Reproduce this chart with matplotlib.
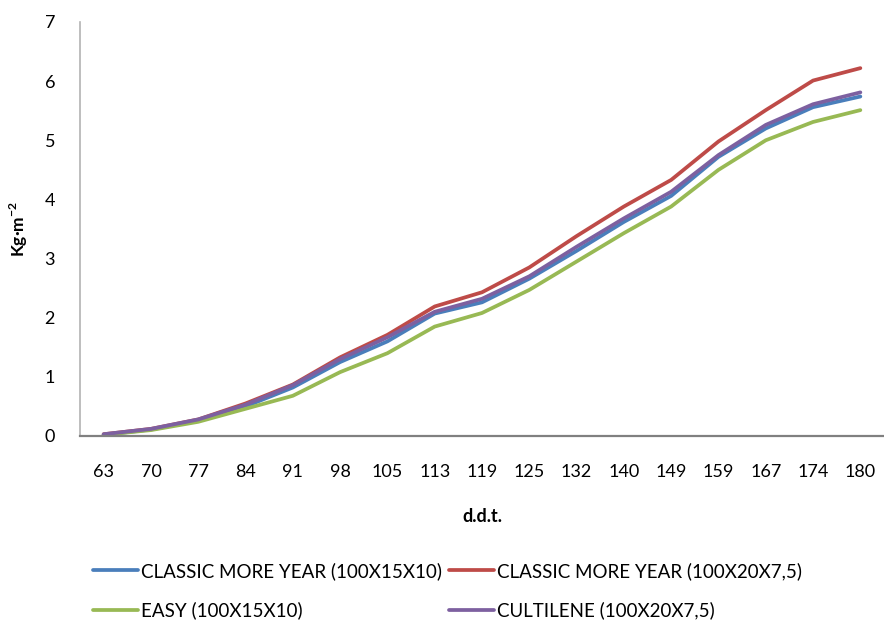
import matplotlib
matplotlib.use("Agg")
import matplotlib.pyplot as plt
from matplotlib import font_manager

# Sampling days (d.d.t.) and cumulative yield per treatment (Kg·m-2)
days = ["63", "70", "77", "84", "91", "98", "105", "113", "119",
        "125", "132", "140", "149", "159", "167", "174", "180"]
classic_15x10 = [0.02, 0.11, 0.26, 0.50, 0.82, 1.25, 1.60, 2.07, 2.26,
                 2.66, 3.13, 3.62, 4.06, 4.72, 5.20, 5.56, 5.74]
classic_20x75 = [0.03, 0.12, 0.28, 0.55, 0.87, 1.33, 1.71, 2.19, 2.43,
                 2.85, 3.38, 3.88, 4.33, 4.98, 5.51, 6.01, 6.22]
easy_15x10 = [0.02, 0.10, 0.24, 0.46, 0.68, 1.08, 1.40, 1.85, 2.08,
              2.47, 2.95, 3.43, 3.88, 4.50, 5.00, 5.31, 5.51]
cultilene_20x75 = [0.03, 0.12, 0.28, 0.53, 0.86, 1.30, 1.67, 2.10, 2.32,
                   2.70, 3.20, 3.68, 4.13, 4.75, 5.26, 5.61, 5.81]
series_names = ["CLASSIC MORE YEAR (100X15X10)",
                "CLASSIC MORE YEAR (100X20X7,5)",
                "EASY (100X15X10)",
                "CULTILENE (100X20X7,5)"]
y_ticks = [0, 1, 2, 3, 4, 5, 6, 7]

available = {f.name for f in font_manager.fontManager.ttflist}
main_font = "Lato" if "Lato" in available else "DejaVu Sans"

plt.rcParams["font.family"] = [main_font, "DejaVu Sans"]
plt.rcParams["mathtext.fontset"] = "custom"
plt.rcParams["mathtext.rm"] = main_font
plt.rcParams["mathtext.bf"] = main_font + ":bold"

W, H = 884, 624
fig = plt.figure(figsize=(W / 100, H / 100), dpi=100)
ax = fig.add_axes([80 / W, 1 - 436 / H, 804 / W, 414 / H])

colors = ["#4A7EBB", "#BE4B48", "#98B954", "#7D60A0"]
data = [classic_15x10, classic_20x75, easy_15x10, cultilene_20x75]
x = list(range(len(days)))
lines = []
for vals, c, name in zip(data, colors, series_names):
    ln, = ax.plot(x, vals, color=c, lw=2.7, solid_capstyle="round",
                  solid_joinstyle="round", label=name)
    lines.append(ln)

ax.set_xlim(-0.5, len(days) - 0.5)
ax.set_ylim(0, 7)
ax.set_xticks(x)
ax.set_xticklabels(days)
ax.set_yticks(y_ticks)
ax.tick_params(axis="both", length=0, labelsize=13, colors="#000000")
ax.tick_params(axis="y", pad=18)
ax.tick_params(axis="x", pad=20)
for s in ("top", "right"):
    ax.spines[s].set_visible(False)
ax.spines["left"].set_color("#B3B3B3")
ax.spines["left"].set_linewidth(1.2)
ax.spines["bottom"].set_color("#808080")
ax.spines["bottom"].set_linewidth(1.6)

fig.text(19 / W, 1 - 229 / H, r"Kg·m$^{\mathbf{-2}}$", rotation=90,
         ha="center", va="center", fontsize=12.5, fontweight="bold")
fig.text(482 / W, 1 - 517 / H, "d.d.t.", ha="center", va="center",
         fontsize=13, fontweight="bold")

# Legend: two columns, each drawn as its own single-column legend
leg_size = 13.5
fs_px = leg_size * 100 / 72
legend_cols = [([0, 2], 93), ([1, 3], 449)]
for idx, x_px in legend_cols:
    leg = fig.legend([lines[i] for i in idx], [series_names[i] for i in idx],
                     ncol=1, loc="upper left",
                     bbox_to_anchor=(x_px / W, 1 - 562 / H),
                     frameon=False, borderpad=0, borderaxespad=0,
                     handlelength=45 / fs_px, handletextpad=3 / fs_px,
                     labelspacing=1.14, fontsize=leg_size)
    for h in leg.legend_handles:
        h.set_linewidth(2.7)

fig.savefig("out.png", dpi=100)
